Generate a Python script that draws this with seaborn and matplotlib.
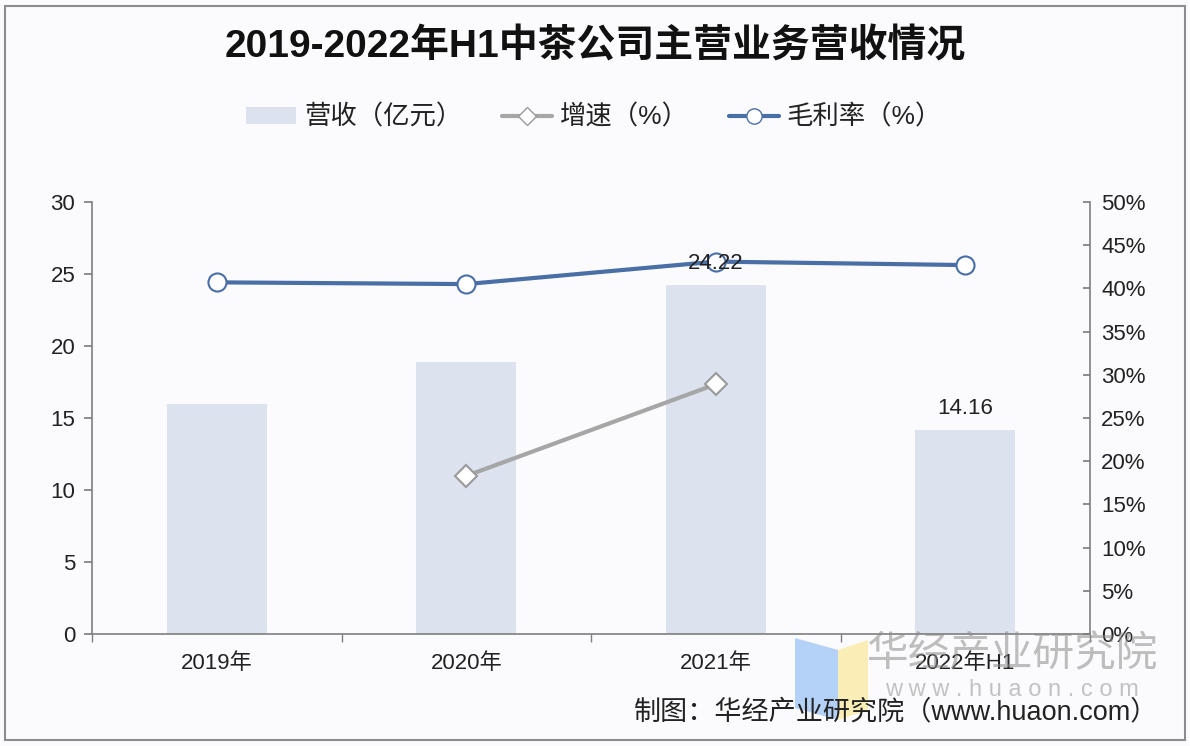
import numpy as np
import pandas as pd
import matplotlib
matplotlib.use("Agg")
import matplotlib.pyplot as plt
import seaborn as sns
from matplotlib.patches import Rectangle, Patch, Polygon
from matplotlib.lines import Line2D
from matplotlib.ticker import FuncFormatter, MultipleLocator, FixedLocator

# ---- data ----
categories = ["2019年", "2020年", "2021年", "2022年H1"]
revenue = [15.94, 18.9, 24.22, 14.16]          # 营收（亿元）
growth = [np.nan, 18.3, 28.9, np.nan]          # 增速（%）
margin = [40.7, 40.5, 43.1, 42.7]              # 毛利率（%）
labeled = {2: "24.22", 3: "14.16"}

title = "2019-2022年H1中茶公司主营业务营收情况"
legend_labels = ["营收（亿元）", "增速（%）", "毛利率（%）"]
source = "制图：华经产业研究院（www.huaon.com）"

sns.set_theme(style="white")
plt.rcParams['font.family'] = ['Liberation Sans', 'Noto Sans CJK SC', 'DejaVu Sans']

bar_color = "#dce3ee"
blue = "#4a6ea6"
gray = "#a6a6a6"
spine = "#7f7f7f"
bg = "#fbfbfd"

fig = plt.figure(figsize=(11.9, 7.46), dpi=100, facecolor=bg)
ax = fig.add_axes([92/1190, 1-634/746, (1090-92)/1190, (634-202)/746])
ax.set_facecolor(bg)

df = pd.DataFrame({"cat": categories, "rev": revenue})
sns.barplot(data=df, x="cat", y="rev", ax=ax, color=bar_color, width=0.4,
            saturation=1, edgecolor="none", zorder=2)
ax.set_xlim(-0.5, 3.5)
ax.set_ylim(0, 30)
ax.yaxis.set_major_locator(MultipleLocator(5))
ax.set_xlabel("")
ax.set_ylabel("")

ax2 = ax.twinx()
xpos = np.arange(len(categories))
dfl = pd.DataFrame({"x": xpos, "growth": growth, "margin": margin})
sns.lineplot(data=dfl.dropna(subset=["growth"]), x="x", y="growth", ax=ax2,
             color=gray, lw=3, marker="D", markersize=11,
             markerfacecolor="white", markeredgecolor="#9a9a9a", markeredgewidth=1.5, zorder=3)
sns.lineplot(data=dfl, x="x", y="margin", ax=ax2,
             color=blue, lw=3, marker="o", markersize=13,
             markerfacecolor="white", markeredgecolor=blue, markeredgewidth=1.5, zorder=3)
ax2.set_ylim(0, 50)
ax2.set_xlim(-0.5, 3.5)
ax2.yaxis.set_major_locator(MultipleLocator(5))
ax2.yaxis.set_major_formatter(FuncFormatter(lambda v, p: f"{v:.0f}%"))
ax2.set_xlabel("")
ax2.set_ylabel("")

for i, txt in labeled.items():
    ax2.annotate(txt, xy=(i, revenue[i]), xycoords=ax.transData,
                 xytext=(0, 8), textcoords="offset points",
                 ha="center", va="bottom", fontsize=16, color="#222222", zorder=10)

# spines & ticks
for a in (ax, ax2):
    for s in a.spines.values():
        s.set_visible(False)
ax.spines["left"].set_visible(True)
ax.spines["bottom"].set_visible(True)
ax2.spines["right"].set_visible(True)
for s in (ax.spines["left"], ax.spines["bottom"], ax2.spines["right"]):
    s.set_color(spine)
    s.set_linewidth(1.2)

ax.tick_params(axis="y", which="major", direction="out", length=6, color=spine,
               labelsize=16, labelcolor="#222222", pad=6, left=True)
ax.tick_params(axis="x", which="major", length=0, labelsize=16, labelcolor="#222222", pad=14)
ax.xaxis.set_minor_locator(FixedLocator([-0.5, 0.5, 1.5, 2.5, 3.5]))
ax.tick_params(axis="x", which="minor", direction="out", length=6, color=spine, bottom=True)
ax2.tick_params(axis="y", which="major", direction="in", length=5, color=spine,
                labelsize=16, labelcolor="#222222", pad=8, right=True)

# title
fig.text(595/1190, 1-47/746, title, ha="center", va="center", fontsize=28,
         fontweight="bold", color="#111111")

# legend
handles = [
    Patch(facecolor=bar_color, edgecolor="none"),
    Line2D([], [], color=gray, lw=3, marker="D", markersize=9,
           markerfacecolor="white", markeredgecolor="#9a9a9a"),
    Line2D([], [], color=blue, lw=3, marker="o", markersize=11,
           markerfacecolor="white", markeredgecolor=blue),
]
fig.legend(handles, legend_labels, loc="center", bbox_to_anchor=(594/1190, 1-117/746),
           ncol=3, frameon=False, fontsize=19, handlelength=1.9, handleheight=0.6,
           columnspacing=1.5, handletextpad=0.3, labelcolor="#222222")

# watermark
fig.patches.append(Polygon([[795/1190, 1-638/746], [838/1190, 1-650/746],
                            [838/1190, 1-720/746], [795/1190, 1-708/746]],
                           closed=True, transform=fig.transFigure,
                           facecolor="#9cc3f5", alpha=0.75, edgecolor="none", zorder=0))
fig.patches.append(Polygon([[838/1190, 1-650/746], [868/1190, 1-640/746],
                            [868/1190, 1-710/746], [838/1190, 1-720/746]],
                           closed=True, transform=fig.transFigure,
                           facecolor="#fbeaa5", alpha=0.8, edgecolor="none", zorder=0))
fig.text(1012/1190, 1-655/746, "华经产业研究院", ha="center", va="center",
         fontsize=30, color="#8a8a8a", alpha=0.55, zorder=0)
fig.text(1012/1190, 1-690/746, "w w w . h u a o n . c o m", ha="center", va="center",
         fontsize=17, color="#8a8a8a", alpha=0.5, zorder=0)

# source
fig.text(1158/1190, 1-712/746, source, ha="right", va="center", fontsize=19.5, color="#222222")

# border
fig.patches.append(Rectangle((5/1190, 6/746), 1180/1190, 734/746, transform=fig.transFigure,
                             fill=False, edgecolor="#8c8c8c", lw=1.5, zorder=5))

fig.savefig("out.png", dpi=100, facecolor=bg)
